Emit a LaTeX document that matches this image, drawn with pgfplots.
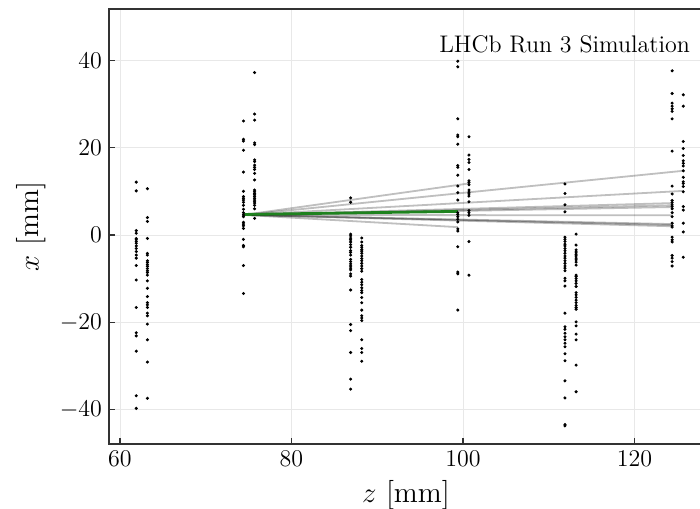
\documentclass[border=0pt]{standalone}
\usepackage{pgfplots}
\pgfplotsset{compat=1.18}
\definecolor{seedgreen}{RGB}{30,130,30}
\definecolor{spine}{RGB}{50,50,50}

\begin{document}
\begin{tikzpicture}
% the reference is cut just left of the right spine
\useasboundingbox (-54.5pt,-32pt) rectangle (295.5pt,222pt);
\clip (-54.5pt,-32pt) rectangle (295.5pt,222pt);
\begin{axis}[
    at={(0,0)}, anchor=south west,
    scale only axis,
    width=297pt, height=217.5pt,
    xmin=58.72, xmax=128,
    ymin=-47.86, ymax=51.75,
    xtick={60,80,100,120},
    ytick={-40,-20,0,20,40},
    xtick pos=left, ytick pos=left,
    tick align=inside,
    major tick length=3pt,
    grid=major,
    grid style={gray!18, line width=0.4pt},
    axis line style={spine, line width=0.8pt},
    tick style={spine, line width=0.6pt},
    ticklabel style={font=\fontsize{12}{14}\selectfont},
    label style={font=\fontsize{14.7}{17}\selectfont},
    xlabel={$z$ [mm]},
    ylabel={$x$ [mm]},
    hit/.style={only marks, mark=*, mark size=0.55pt, black},
    track/.style={black, opacity=0.25, line width=0.9pt, mark=none},
]
% candidate tracks
\addplot[track] coordinates {(74.4,4.6) (100.7,11.8)};
\addplot[track] coordinates {(74.4,4.6) (125.7,14.7)};
\addplot[track] coordinates {(74.4,4.6) (125.7,10.1)};
\addplot[track] coordinates {(74.4,4.6) (124.4,7.3)};
\addplot[track] coordinates {(74.4,4.6) (124.4,6.8)};
\addplot[track] coordinates {(74.4,4.6) (124.4,6.4)};
\addplot[track] coordinates {(74.4,4.6) (124.4,4.5)};
\addplot[track] coordinates {(74.4,4.6) (124.4,2.0)};
\addplot[track] coordinates {(74.4,4.6) (124.4,2.3)};
\addplot[track] coordinates {(74.4,4.6) (124.4,2.5)};
\addplot[track] coordinates {(74.4,4.6) (99.4,1.8)};
% accepted segment
\addplot[seedgreen, line width=1.4pt, mark=none] coordinates {(74.4,4.7) (99.4,5.4)};

% hits, one plot per module
\addplot[hit] coordinates {(61.9,12.1) (61.9,10.1) (61.9,1.0) (61.9,0.4) (61.9,-0.8) (61.9,-1.1) (61.9,-1.5) (61.9,-1.9) (61.9,-2.5) (61.9,-3.1) (61.9,-3.8) (61.9,-4.6) (61.9,-5.3) (61.9,-7.0) (61.9,-10.3) (61.9,-16.6) (61.9,-22.4) (61.9,-23.1) (61.9,-26.6) (61.9,-36.8) (61.9,-39.7)};
\addplot[hit] coordinates {(63.2,10.6) (63.2,4.0) (63.2,3.1) (63.2,-0.8) (63.2,-4.2) (63.2,-4.6) (63.2,-5.9) (63.2,-6.3) (63.2,-6.8) (63.2,-7.2) (63.2,-7.7) (63.2,-8.2) (63.2,-8.6) (63.2,-9.2) (63.2,-10.5) (63.2,-12.2) (63.2,-14.1) (63.2,-15.5) (63.2,-16.0) (63.2,-16.6) (63.2,-17.9) (63.2,-18.5) (63.2,-20.4) (63.2,-24.0) (63.2,-29.1) (63.2,-37.4)};
\addplot[hit] coordinates {(74.4,26.1) (74.4,21.9) (74.4,21.5) (74.4,19.4) (74.4,14.4) (74.4,10.0) (74.4,8.8) (74.4,8.4) (74.4,8.0) (74.4,7.5) (74.4,6.8) (74.4,5.9) (74.4,5.1) (74.4,4.6) (74.4,4.2) (74.4,2.9) (74.4,2.5) (74.4,2.1) (74.4,1.5) (74.4,-1.0) (74.4,-2.4) (74.4,-2.7) (74.4,-7.0) (74.4,-13.4)};
\addplot[hit] coordinates {(75.7,37.2) (75.7,27.7) (75.7,26.3) (75.7,21.1) (75.7,20.7) (75.7,17.2) (75.7,16.8) (75.7,16.0) (75.7,15.5) (75.7,15.0) (75.7,14.1) (75.7,12.6) (75.7,10.3) (75.7,9.9) (75.7,9.5) (75.7,9.2) (75.7,8.8) (75.7,8.4) (75.7,8.0) (75.7,7.6) (75.7,7.3) (75.7,6.8) (75.7,6.0) (75.7,3.8)};
\addplot[hit] coordinates {(86.9,8.5) (86.9,7.5) (86.9,0.2) (86.9,-0.2) (86.9,-0.7) (86.9,-1.1) (86.9,-1.6) (86.9,-2.2) (86.9,-2.8) (86.9,-3.6) (86.9,-4.0) (86.9,-4.6) (86.9,-5.6) (86.9,-6.1) (86.9,-6.6) (86.9,-7.1) (86.9,-7.6) (86.9,-8.0) (86.9,-8.9) (86.9,-9.4) (86.9,-12.6) (86.9,-20.5) (86.9,-21.9) (86.9,-26.9) (86.9,-33.0) (86.9,-35.3)};
\addplot[hit] coordinates {(88.2,-0.7) (88.2,-1.6) (88.2,-2.4) (88.2,-2.8) (88.2,-3.3) (88.2,-3.7) (88.2,-4.2) (88.2,-4.8) (88.2,-5.4) (88.2,-5.9) (88.2,-6.5) (88.2,-7.1) (88.2,-7.7) (88.2,-8.3) (88.2,-10.2) (88.2,-10.8) (88.2,-11.4) (88.2,-12.1) (88.2,-12.7) (88.2,-13.2) (88.2,-14.3) (88.2,-15.5) (88.2,-17.2) (88.2,-18.5) (88.2,-19.0) (88.2,-19.6) (88.2,-24.0) (88.2,-26.0) (88.2,-26.9) (88.2,-28.9)};
\addplot[hit] coordinates {(99.4,39.8) (99.4,38.5) (99.4,26.6) (99.4,22.9) (99.4,22.5) (99.4,20.8) (99.4,15.9) (99.4,15.5) (99.4,13.7) (99.4,11.2) (99.4,9.7) (99.4,8.0) (99.4,5.1) (99.4,4.7) (99.4,4.2) (99.4,3.6) (99.4,3.0) (99.4,1.4) (99.4,0.9) (99.4,-2.7) (99.4,-8.5) (99.4,-8.9) (99.4,-17.2)};
\addplot[hit] coordinates {(100.7,22.5) (100.7,18.3) (100.7,17.3) (100.7,16.6) (100.7,15.0) (100.7,12.4) (100.7,12.0) (100.7,11.5) (100.7,10.3) (100.7,9.8) (100.7,9.4) (100.7,8.9) (100.7,7.6) (100.7,5.6) (100.7,5.1) (100.7,4.5) (100.7,-1.5) (100.7,-9.2)};
\addplot[hit] coordinates {(111.9,11.7) (111.9,9.5) (111.9,6.9) (111.9,5.3) (111.9,-0.5) (111.9,-1.0) (111.9,-1.5) (111.9,-2.1) (111.9,-2.5) (111.9,-3.1) (111.9,-3.6) (111.9,-4.2) (111.9,-4.8) (111.9,-5.3) (111.9,-5.9) (111.9,-6.5) (111.9,-7.1) (111.9,-7.6) (111.9,-8.2) (111.9,-9.9) (111.9,-10.5) (111.9,-11.7) (111.9,-17.9) (111.9,-21.0) (111.9,-21.6) (111.9,-22.5) (111.9,-23.3) (111.9,-24.0) (111.9,-24.8) (111.9,-25.6) (111.9,-27.2) (111.9,-28.8) (111.9,-33.4) (111.9,-37.3) (111.9,-43.4) (111.9,-43.7)};
\addplot[hit] coordinates {(113.2,0.2) (113.2,-2.3) (113.2,-3.4) (113.2,-3.9) (113.2,-4.4) (113.2,-4.8) (113.2,-5.3) (113.2,-5.7) (113.2,-6.2) (113.2,-6.9) (113.2,-9.2) (113.2,-9.5) (113.2,-10.0) (113.2,-10.5) (113.2,-11.1) (113.2,-11.8) (113.2,-13.2) (113.2,-13.7) (113.2,-14.3) (113.2,-14.9) (113.2,-15.5) (113.2,-16.1) (113.2,-16.6) (113.2,-17.0) (113.2,-19.9) (113.2,-20.8) (113.2,-22.7) (113.2,-24.0) (113.2,-29.8) (113.2,-35.9)};
\addplot[hit] coordinates {(124.4,37.6) (124.4,32.4) (124.4,30.2) (124.4,29.5) (124.4,28.9) (124.4,28.3) (124.4,26.6) (124.4,19.2) (124.4,11.2) (124.4,9.4) (124.4,7.9) (124.4,7.4) (124.4,6.9) (124.4,6.5) (124.4,6.0) (124.4,5.1) (124.4,4.2) (124.4,2.7) (124.4,2.1) (124.4,1.8) (124.4,-0.5) (124.4,-1.1) (124.4,-1.6) (124.4,-4.7) (124.4,-5.3) (124.4,-6.1) (124.4,-7.1)};
\addplot[hit] coordinates {(125.7,32.1) (125.7,29.5) (125.7,21.4) (125.7,19.8) (125.7,18.2) (125.7,17.0) (125.7,16.4) (125.7,15.8) (125.7,14.7) (125.7,13.2) (125.7,12.2) (125.7,11.8) (125.7,11.1) (125.7,9.9) (125.7,6.5) (125.7,5.7) (125.7,2.7) (125.7,0.7) (125.7,-5.1)};

\node[anchor=base east, font=\fontsize{12}{14}\selectfont] at (axis cs:127.3,41.7) {LHCb Run 3 Simulation};
\end{axis}
\end{tikzpicture}
\end{document}
